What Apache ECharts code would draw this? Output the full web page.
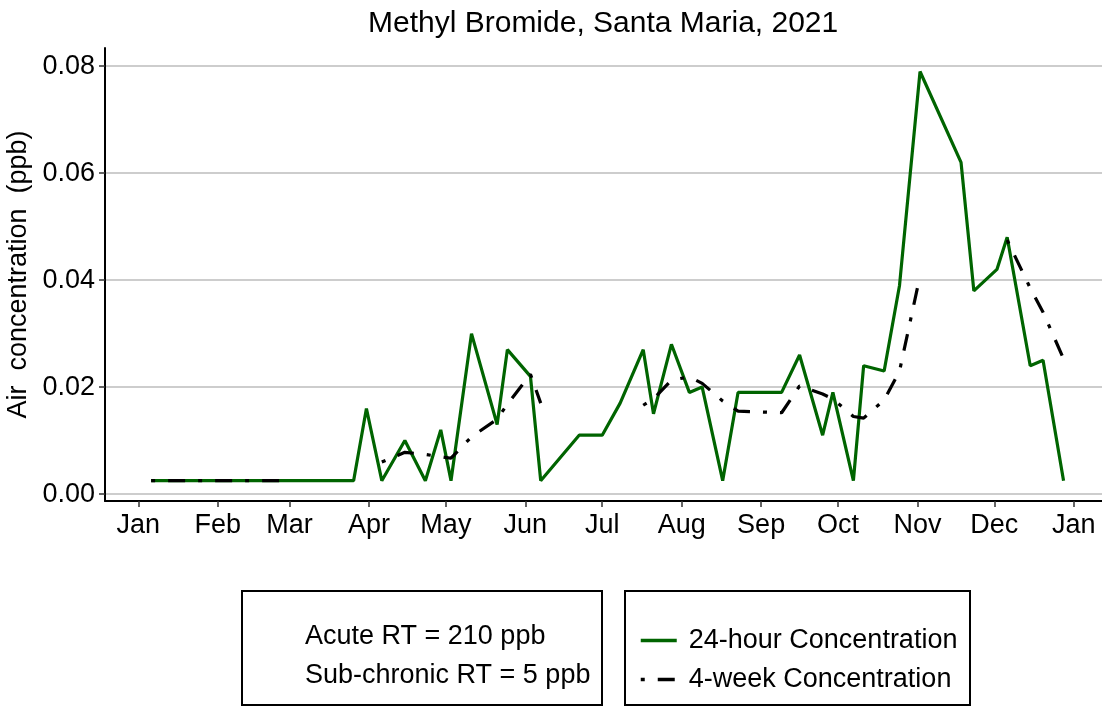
<!DOCTYPE html>
<html>
<head>
<meta charset="utf-8">
<title>Methyl Bromide, Santa Maria, 2021</title>
<script src="https://cdn.jsdelivr.net/npm/echarts@6/dist/echarts.min.js"></script>
<style>
  html, body { margin: 0; padding: 0; background: #fff; }
  #chart { width: 1102px; height: 707px; }
</style>
</head>
<body>
<div id="chart"></div>
<script>
// sampling dates (2021) and concentrations in ppb
const sampleDates = [
  "2021-01-06", "2021-02-25", "2021-03-26", "2021-03-31", "2021-04-06", "2021-04-15",
  "2021-04-23", "2021-04-29", "2021-05-03", "2021-05-11", "2021-05-21", "2021-05-25",
  "2021-06-03", "2021-06-07", "2021-06-22", "2021-07-01", "2021-07-08", "2021-07-17",
  "2021-07-21", "2021-07-28", "2021-08-04", "2021-08-09", "2021-08-17", "2021-08-23",
  "2021-09-09", "2021-09-16", "2021-09-25", "2021-09-29", "2021-10-07", "2021-10-11",
  "2021-10-19", "2021-10-25", "2021-11-02", "2021-11-18", "2021-11-23", "2021-12-02",
  "2021-12-06", "2021-12-15", "2021-12-20", "2021-12-28"
];
const conc24h = [
  0.0025, 0.0025, 0.0025, 0.016, 0.0025, 0.010,
  0.0025, 0.012, 0.0025, 0.030, 0.013, 0.027,
  0.022, 0.0025, 0.011, 0.011, 0.017, 0.027,
  0.015, 0.028, 0.019, 0.020, 0.0025, 0.019,
  0.019, 0.026, 0.011, 0.019, 0.0025, 0.024,
  0.023, 0.039, 0.079, 0.062, 0.038, 0.042,
  0.048, 0.024, 0.025, 0.0025
];
const conc4wk = [
  0.0025, 0.0025, null, null, 0.0060, 0.0078,
  0.0074, 0.0070, 0.0067, 0.0107, 0.0140, 0.0168,
  0.0224, 0.0170, null, null, null, 0.0166,
  0.0178, 0.0213, 0.0219, 0.0207, 0.0174, 0.0155,
  0.0152, 0.0202, 0.0187, 0.0178, 0.0145, 0.0142,
  0.0176, 0.0230, 0.0408, null, null, null,
  0.0475, 0.0385, 0.0340, 0.0253
];

const monthTicks = [
  "2021-01-01", "2021-02-01", "2021-03-01", "2021-04-01", "2021-05-01", "2021-06-01", "2021-07-01",
  "2021-08-01", "2021-09-01", "2021-10-01", "2021-11-01", "2021-12-01", "2022-01-01"
];
const monthNames = ["Jan", "Feb", "Mar", "Apr", "May", "Jun", "Jul", "Aug", "Sep", "Oct", "Nov", "Dec"];
const yTicks = [0, 0.02, 0.04, 0.06, 0.08];
const thresholdNotes = ["Acute RT = 210 ppb", "Sub-chronic RT = 5 ppb"];

const FONT = "Liberation Sans, Arial, sans-serif";

function toTime(s) {
  const [y, m, d] = s.split("-").map(Number);
  return Date.UTC(y, m - 1, d);
}

const chart = echarts.init(document.getElementById("chart"), null, { renderer: "canvas" });

chart.setOption({
  animation: false,
  backgroundColor: "#fff",
  textStyle: { fontFamily: FONT },
  title: {
    text: "Methyl Bromide, Santa Maria, 2021",
    left: 363,
    top: 4,
    textStyle: { fontFamily: FONT, fontSize: 30, fontWeight: "normal", color: "#000" }
  },
  grid: { left: 105, right: 0, top: 48, bottom: 206, outerBoundsMode: "none" },
  legend: {
    orient: "vertical",
    left: 634,
    top: 622,
    itemWidth: 36,
    itemHeight: 20,
    itemGap: 12,
    itemStyle: { opacity: 0 },
    lineStyle: { width: 3.5 },
    textStyle: { fontFamily: FONT, fontSize: 27, color: "#000", padding: [0, 0, 0, 7] },
    data: ["24-hour Concentration", "4-week Concentration"]
  },
  // dates kept as UTC milliseconds on a plain value axis, ticks at month starts
  xAxis: {
    type: "value",
    min: toTime("2020-12-19"),
    max: toTime("2022-01-12"),
    axisLine: { onZero: false, lineStyle: { color: "#000", width: 2 } },
    axisTick: { customValues: monthTicks.map(toTime), length: 6, lineStyle: { color: "#333", width: 1.5 } },
    axisLabel: {
      customValues: monthTicks.map(toTime),
      margin: 11,
      fontSize: 27,
      color: "#000",
      fontFamily: FONT,
      formatter: (v) => monthNames[new Date(v).getUTCMonth()]
    },
    splitLine: { show: false }
  },
  yAxis: {
    type: "value",
    min: -0.0013,
    max: 0.0834,
    name: "Air  concentration  (ppb)",
    nameLocation: "middle",
    nameGap: 58,
    nameTextStyle: { fontFamily: FONT, fontSize: 27, color: "#000" },
    axisLine: { show: true, lineStyle: { color: "#000", width: 2 } },
    axisTick: { show: true, customValues: yTicks, length: 6, lineStyle: { color: "#333", width: 1.5 } },
    axisLabel: {
      customValues: yTicks,
      margin: 10,
      fontSize: 27,
      color: "#000",
      fontFamily: FONT,
      formatter: (v) => v.toFixed(2)
    },
    splitLine: { show: true, lineStyle: { color: "#bdbdbd", width: 1.5 } }
  },
  graphic: [
    {
      type: "rect",
      shape: { x: 242, y: 591, width: 360, height: 114 },
      style: { fill: "none", stroke: "#000", lineWidth: 2 }
    },
    {
      type: "rect",
      shape: { x: 625, y: 591, width: 345, height: 114 },
      style: { fill: "none", stroke: "#000", lineWidth: 2 }
    },
    {
      type: "text",
      x: 305,
      y: 637,
      style: { text: thresholdNotes[0], fontFamily: FONT, fontSize: 27, fill: "#000", verticalAlign: "middle" }
    },
    {
      type: "text",
      x: 305,
      y: 676,
      style: { text: thresholdNotes[1], fontFamily: FONT, fontSize: 27, fill: "#000", verticalAlign: "middle" }
    }
  ],
  series: [
    {
      name: "24-hour Concentration",
      type: "line",
      symbol: "none",
      lineStyle: { color: "#006400", width: 3.2 },
      itemStyle: { color: "#006400" },
      data: sampleDates.map((d, i) => [toTime(d), conc24h[i]])
    },
    {
      name: "4-week Concentration",
      type: "line",
      symbol: "none",
      connectNulls: false,
      lineStyle: { color: "#000", width: 3.2, type: [4, 13, 17, 13], cap: "butt" },
      itemStyle: { color: "#000" },
      data: sampleDates.map((d, i) => [toTime(d), conc4wk[i]])
    }
  ]
});
</script>
</body>
</html>
